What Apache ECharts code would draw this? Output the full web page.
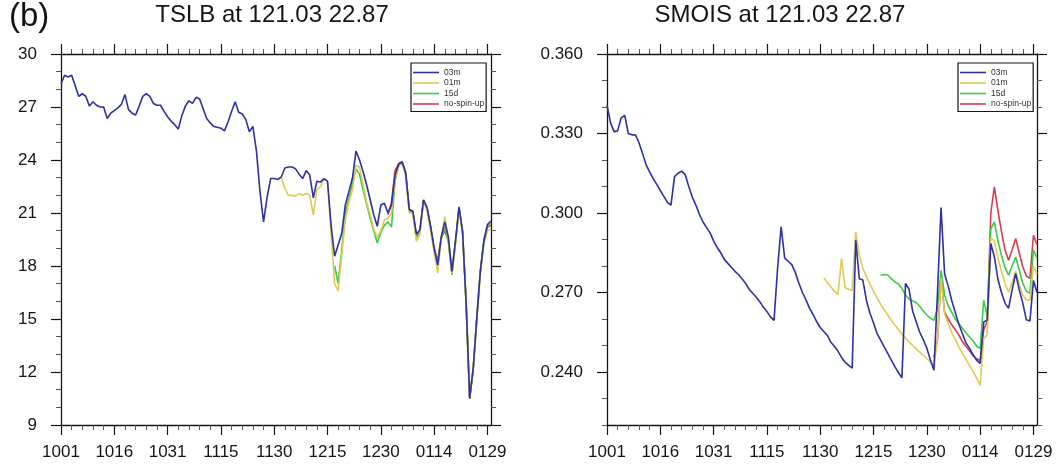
<!DOCTYPE html>
<html>
<head>
<meta charset="utf-8">
<script src="https://cdn.jsdelivr.net/npm/echarts@6.0.0/dist/echarts.min.js"></script>
<style>
  html, body { margin: 0; padding: 0; background: #ffffff; }
  #chart { width: 1059px; height: 470px; }
</style>
</head>
<body>
<div id="chart"></div>
<script>
// ---- calendar: one value per day, 1001 .. 0130 (MMDD) ----
const monthSpans = [['10', 31], ['11', 30], ['12', 31], ['01', 30]];
const dates = [];
monthSpans.forEach(([m, n]) => {
  for (let d = 1; d <= n; d++) dates.push(m + String(d).padStart(2, '0'));
});
const xTickLabels = ['1001', '1016', '1031', '1115', '1130', '1215', '1230', '0114', '0129'];

// ---- runs ----
const runNames  = ['03m', '01m', '15d', 'no-spin-up'];
const runStarts = ['1001', '1201', '1217', '0101'];
const runColors = ['#2f2fa6', '#dccb55', '#3dca45', '#d83a50'];

// ---- TSLB (soil temperature) ----
const tslbTicks = [9, 12, 15, 18, 21, 24, 27, 30];
const tslbMinorTicks = [10, 11, 13, 14, 16, 17, 19, 20, 22, 23, 25, 26, 28, 29];
const tslb03m = [
  28.3, 28.8, 28.7, 28.8, 28.2, 27.6, 27.75, 27.6, 27.05, 27.3,
  27.1, 27.0, 27.0, 26.35, 26.65, 26.8, 26.95, 27.15, 27.7, 26.85,
  26.65, 26.55, 27.05, 27.6, 27.75, 27.6, 27.2, 27.1, 27.1, 26.75,
  26.45, 26.2, 26.0, 25.75, 26.5, 27.05, 27.35, 27.2, 27.55, 27.45,
  26.9, 26.35, 26.1, 25.9, 25.85, 25.8, 25.65, 26.15, 26.75, 27.3,
  26.7, 26.6, 26.3, 25.6, 25.9, 24.5, 22.2, 20.5, 21.9, 22.95,
  22.95, 22.9, 23.05, 23.55, 23.6, 23.6, 23.5, 23.2, 22.95, 23.4,
  23.15, 21.85, 22.8, 22.75, 22.95, 22.8, 20.3, 18.55, 19.2, 19.85,
  21.45, 22.2, 22.95, 24.5, 24.0, 23.35, 22.6, 21.75, 20.9, 20.25,
  21.45, 21.55, 21.0, 21.45, 23.15, 23.75, 23.9, 23.25, 21.2, 21.1,
  19.8, 20.05, 21.75, 21.3, 20.25, 19.0, 18.05, 19.65, 20.5, 19.65,
  17.7, 19.4, 21.35, 19.95, 15.9, 10.5, 12.2, 15.05, 17.7, 19.4,
  20.35, 20.55
];
const tslb01m = [
  22.9, 23.0, 22.4, 22.0, 22.0, 21.95, 22.1, 22.0, 22.1, 22.0,
  20.9, 22.3, 22.5, 22.9, 22.8, 19.8, 17.0, 16.6, 18.6, 20.6,
  21.6, 22.3, 23.7, 23.6, 22.6, 21.6, 20.9, 20.1, 19.6, 20.0,
  20.6, 20.7, 21.0, 22.9, 23.6, 23.9, 23.1, 21.0, 21.0, 19.4,
  19.8, 21.6, 21.2, 20.0, 18.8, 17.6, 19.6, 20.8, 19.5, 17.6,
  19.2, 21.2, 19.9, 15.9, 10.5, 12.2, 15.0, 17.6, 19.2, 20.0,
  20.1
];
const tslb15d = [
  18.0, 17.0, 18.9, 21.0, 21.8, 22.6, 23.5, 23.2, 22.3, 21.5,
  20.7, 20.0, 19.3, 19.9, 20.3, 20.5, 20.2, 22.8, 23.7, 23.8,
  23.2, 21.1, 21.0, 19.6, 19.9, 21.7, 21.3, 20.2, 18.9, 18.2,
  19.5, 20.2, 19.4, 17.5, 19.3, 21.3, 19.9, 15.9, 10.5, 12.2,
  15.0, 17.7, 19.5, 20.3, 20.4
];
const tslbNoSpinUp = [
  20.9, 21.6, 23.4, 23.8, 23.9, 23.3, 21.2, 21.1, 19.7, 20.0,
  21.7, 21.3, 20.2, 19.0, 18.3, 19.6, 20.0, 19.4, 17.6, 19.4,
  21.3, 19.95, 15.9, 10.5, 12.2, 15.05, 17.7, 19.4, 20.2, 20.3
];

// ---- SMOIS (soil moisture) ----
const smoisTicks = [0.24, 0.27, 0.30, 0.33, 0.36];
const smoisMinorTicks = [0.22, 0.23, 0.25, 0.26, 0.28, 0.29, 0.31, 0.32, 0.34, 0.35];
const smois03m = [
  0.3407, 0.3340, 0.3307, 0.3310, 0.3360, 0.3368, 0.3300, 0.3295, 0.3295, 0.3265,
  0.3225, 0.3182, 0.3155, 0.3130, 0.3108, 0.3085, 0.3063, 0.3040, 0.3030, 0.3137,
  0.3150, 0.3158, 0.3145, 0.3100, 0.3060, 0.3030, 0.2995, 0.2967, 0.2945, 0.2925,
  0.2895, 0.2870, 0.2850, 0.2825, 0.2810, 0.2795, 0.2780, 0.2768, 0.2752, 0.2735,
  0.2712, 0.2697, 0.2682, 0.2665, 0.2645, 0.2628, 0.2608, 0.2595, 0.2790, 0.2948,
  0.2830, 0.2818, 0.2805, 0.2775, 0.2735, 0.2700, 0.2672, 0.2640, 0.2617, 0.2590,
  0.2568, 0.2553, 0.2538, 0.2512, 0.2497, 0.2478, 0.2455, 0.2437, 0.2425, 0.2415,
  0.2898, 0.2752, 0.2747, 0.2670, 0.2622, 0.2585, 0.2545, 0.2520, 0.2495, 0.2470,
  0.2445, 0.2420, 0.2398, 0.2378, 0.2734, 0.2712, 0.2630, 0.2590, 0.2550, 0.2522,
  0.2490, 0.2445, 0.2407, 0.2700, 0.3021, 0.2770, 0.2725, 0.2670, 0.2625, 0.2580,
  0.2545, 0.2510, 0.2490, 0.2465, 0.2445, 0.2432, 0.2589, 0.2595, 0.2885, 0.2835,
  0.2750, 0.2700, 0.2660, 0.2640, 0.2710, 0.2772, 0.2710, 0.2660, 0.2597, 0.2592,
  0.2745, 0.2700
];
const smois01m = [
  0.2755, 0.2738, 0.2722, 0.2705, 0.2692, 0.2828, 0.2718, 0.2712, 0.2708, 0.2929,
  0.2840, 0.2790, 0.2760, 0.2732, 0.2705, 0.2680, 0.2655, 0.2635, 0.2615, 0.2595,
  0.2577, 0.2560, 0.2543, 0.2528, 0.2513, 0.2500, 0.2487, 0.2475, 0.2463, 0.2450,
  0.2438, 0.2425, 0.2520, 0.2755, 0.2620, 0.2585, 0.2550, 0.2522, 0.2495, 0.2470,
  0.2448, 0.2425, 0.2403, 0.2378, 0.2350, 0.2526, 0.2540, 0.2905, 0.2895, 0.2830,
  0.2780, 0.2735, 0.2701, 0.2740, 0.2780, 0.2730, 0.2690, 0.2672, 0.2671, 0.2800,
  0.2770
];
const smois15d = [
  0.2765, 0.2768, 0.2766, 0.2752, 0.2740, 0.2732, 0.2715, 0.2690, 0.2675, 0.2668,
  0.2662, 0.2648, 0.2630, 0.2615, 0.2603, 0.2595, 0.2640, 0.2784, 0.2690, 0.2650,
  0.2625, 0.2600, 0.2583, 0.2565, 0.2548, 0.2532, 0.2518, 0.2498, 0.2489, 0.2671,
  0.2610, 0.2940, 0.2966, 0.2895, 0.2840, 0.2795, 0.2765, 0.2800, 0.2834, 0.2785,
  0.2735, 0.2705, 0.2697, 0.2860, 0.2830
];
const smoisNoSpinUp = [
  0.2456, 0.2520, 0.2759, 0.2625, 0.2600, 0.2578, 0.2560, 0.2540, 0.2515, 0.2497,
  0.2480, 0.2462, 0.2450, 0.2444, 0.2560, 0.2590, 0.3000, 0.3099, 0.3010, 0.2930,
  0.2860, 0.2822, 0.2860, 0.2904, 0.2850, 0.2797, 0.2762, 0.2753, 0.2916, 0.2880
];

// ---- drawing ----
const FONT = '"Liberation Sans", Arial, Helvetica, sans-serif';
const INK = '#151515';
const axisLineStyle = { color: INK, width: 1.3 };
const tickLineStyle = { color: INK, width: 1.2 };
const minorTickStyle = { color: '#555555', width: 1 };

const panels = [
  { title: 'TSLB at 121.03 22.87', titleX: 272, grid: { left: 61, top: 54, width: 430, height: 371 },
    legendX: 411, min: 9, max: 30, ticks: tslbTicks, minor: tslbMinorTicks,
    fmt: v => String(v), runs: [tslb03m, tslb01m, tslb15d, tslbNoSpinUp] },
  { title: 'SMOIS at 121.03 22.87', titleX: 780, grid: { left: 607, top: 54, width: 430, height: 371 },
    legendX: 958, min: 0.22, max: 0.36, ticks: smoisTicks, minor: smoisMinorTicks,
    fmt: v => v.toFixed(3), runs: [smois03m, smois01m, smois15d, smoisNoSpinUp] }
];

const isMajorDate = (i, v) => xTickLabels.indexOf(v) >= 0;
const isMinorDate = (i, v) => i % 3 === 0 && xTickLabels.indexOf(v) < 0;

function alignRun(values, start) {
  const offset = dates.indexOf(start);
  return dates.map((d, i) => (i >= offset && i - offset < values.length) ? values[i - offset] : null);
}

const grid = [], xAxis = [], yAxis = [], series = [], legend = [];
const title = [{
  text: '(b)', left: 9, top: 0, padding: 0,
  textStyle: { fontSize: 33, fontWeight: 'normal', color: INK, fontFamily: FONT }
}];

panels.forEach((p, gi) => {
  grid.push(Object.assign({ containLabel: false }, p.grid));
  title.push({
    text: p.title, left: p.titleX, top: 3, padding: 0, textAlign: 'center',
    textStyle: { fontSize: 24, fontWeight: 'normal', color: INK, fontFamily: FONT }
  });

  const xBase = { type: 'category', data: dates, boundaryGap: false, gridIndex: gi, splitLine: { show: false } };
  const xMajorIndex = xAxis.length;
  xAxis.push(
    Object.assign({}, xBase, {
      position: 'bottom', axisLine: { lineStyle: axisLineStyle },
      axisTick: { interval: isMajorDate, length: 10, lineStyle: tickLineStyle },
      axisLabel: { interval: isMajorDate, margin: 19, fontSize: 17, color: INK, fontFamily: FONT }
    }),
    Object.assign({}, xBase, {
      position: 'top', axisLine: { lineStyle: axisLineStyle },
      axisTick: { interval: isMajorDate, length: 10, lineStyle: tickLineStyle },
      axisLabel: { show: false }
    }),
    Object.assign({}, xBase, {
      position: 'bottom', axisLine: { show: false },
      axisTick: { interval: isMinorDate, length: 5, lineStyle: minorTickStyle },
      axisLabel: { show: false }
    }),
    Object.assign({}, xBase, {
      position: 'top', axisLine: { show: false },
      axisTick: { interval: isMinorDate, length: 5, lineStyle: minorTickStyle },
      axisLabel: { show: false }
    })
  );

  const yBase = { type: 'value', gridIndex: gi, min: p.min, max: p.max, splitLine: { show: false } };
  const yMajorIndex = yAxis.length;
  yAxis.push(
    Object.assign({}, yBase, {
      position: 'left', axisLine: { show: true, lineStyle: axisLineStyle },
      axisTick: { show: true, customValues: p.ticks, length: 10, lineStyle: tickLineStyle },
      axisLabel: { customValues: p.ticks, formatter: p.fmt, margin: 24, fontSize: 17, color: INK, fontFamily: FONT }
    }),
    Object.assign({}, yBase, {
      position: 'right', axisLine: { show: true, lineStyle: axisLineStyle },
      axisTick: { show: true, customValues: p.ticks, length: 10, lineStyle: tickLineStyle },
      axisLabel: { show: false }
    }),
    Object.assign({}, yBase, {
      position: 'left', axisLine: { show: false },
      axisTick: { show: true, customValues: p.minor, length: 5, lineStyle: minorTickStyle },
      axisLabel: { show: false }
    }),
    Object.assign({}, yBase, {
      position: 'right', axisLine: { show: false },
      axisTick: { show: true, customValues: p.minor, length: 5, lineStyle: minorTickStyle },
      axisLabel: { show: false }
    })
  );

  // later runs first so the 03m line lies on top
  for (let r = runNames.length - 1; r >= 0; r--) {
    series.push({
      type: 'line', name: runNames[r], xAxisIndex: xMajorIndex, yAxisIndex: yMajorIndex,
      data: alignRun(p.runs[r], runStarts[r]),
      showSymbol: false, symbol: 'none', connectNulls: false, animation: false,
      color: runColors[r],
      lineStyle: { color: runColors[r], width: 1.6 },
      z: 10 + (runNames.length - r)
    });
  }

  legend.push({
    orient: 'vertical', left: p.legendX, top: 63,
    data: runNames.map(n => ({ name: n, icon: 'rect' })),
    itemWidth: 26, itemHeight: 1.6, itemGap: 1.5,
    padding: [5, 2, 3, 2],
    borderColor: INK, borderWidth: 1.2, backgroundColor: '#ffffff',
    selectedMode: false,
    textStyle: { fontSize: 8.5, color: '#333333', fontFamily: FONT }
  });
});

const chart = echarts.init(document.getElementById('chart'), null, { renderer: 'canvas' });
chart.setOption({
  backgroundColor: '#ffffff',
  animation: false,
  title, grid, xAxis, yAxis, series, legend
});
</script>
</body>
</html>
